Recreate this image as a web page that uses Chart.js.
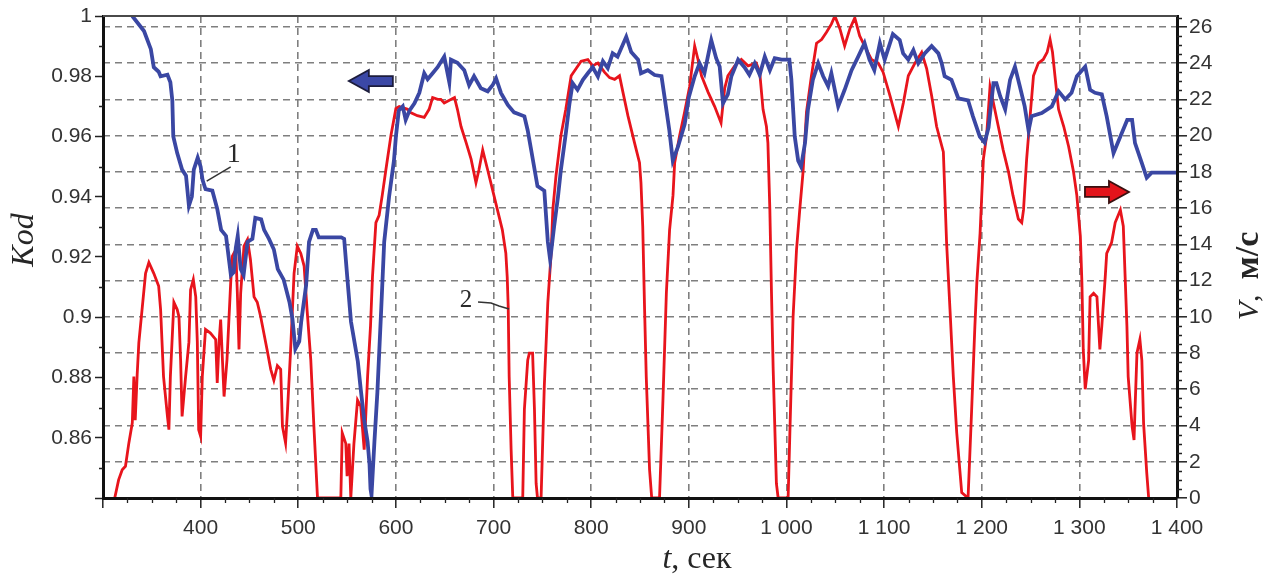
<!DOCTYPE html>
<html>
<head>
<meta charset="utf-8">
<script src="https://cdn.jsdelivr.net/npm/chart.js@4.4.0/dist/chart.umd.min.js"></script>
<style>
  html, body { margin: 0; padding: 0; background: #fff; }
  #wrap { width: 1267px; height: 574px; }
</style>
</head>
<body>
<div id="wrap"><canvas id="grafico" width="1267" height="574"></canvas></div>
<script>
// Kod (curve 1, left axis) - time in seconds
const kodTime = [
  330,342,349,352,357,359,366,369,371,372,
  376,381,385,388,391,393,397,400,402,405,
  412,417,421,426,431,434,436,438,441,444,
  448,453,456,462,465,470,475,479,485,491,
  494,497,501,503,508,511,515,518,521,544,
  547,550,554,561,564,567.5,571,573,574,575,
  578,581,585,588,593,598,600,603,607,610,
  614,619,624,629,632.5,637.6,642.7,649.5,654.7,656.4,
  663,670,675,680,687,694,699,702.6,707.7,714.6,
  721,731.6,735,738.5,745,752,755.6,758,762,766,
  769,774,777.8,781,786,791.5,796.6,801.6,806.9,812,
  817,822,827,835.9,841,848,851,858,865,872,
  875,880,883.6,889,895.7,900,906,911,916,923,
  928,931.6,935,940,943.6,950.5,957,962,967.5,972.6,
  977.8,983,988,995,1003,1005,1008.5,1012,1015,1019,
  1022,1027,1032.5,1037.6,1042.7,1046,1053,1059.6,1066.7,1073.5,
  1080,1085,1090,1095.7,1100.6,1109,1116,1119.5,1124.8,1130,
  1135,1141.6,1148.7,1155.6,1159,1162,1169,1176,1186,1191,
  1198,1203,1207,1212,1215,1219,1224,1229,1234,1239,
  1244,1248,1251,1261.5,1271.8,1278.7,1285.5,1292,1297.5,1306,
  1311,1316,1323,1328,1335,1342,1349,1354,1357,1364,
  1369,1374,1400
];
const kodValue = [
  1.000,0.995,0.989,0.983,0.9815,0.980,0.9805,0.978,0.972,0.960,
  0.9545,0.949,0.947,0.937,0.940,0.949,0.953,0.950,0.9455,0.9425,
  0.942,0.936,0.929,0.927,0.914,0.915,0.923,0.927,0.916,0.914,
  0.925,0.926,0.933,0.9325,0.929,0.926,0.9225,0.916,0.9125,0.905,
  0.8995,0.8895,0.892,0.8985,0.9105,0.925,0.929,0.929,0.9265,0.9265,
  0.926,0.914,0.8985,0.8853,0.876,0.866,0.8587,0.851,0.843,0.841,
  0.8587,0.875,0.903,0.925,0.940,0.952,0.960,0.9687,0.970,0.9655,
  0.9687,0.971,0.9745,0.981,0.979,0.981,0.983,0.9865,0.978,0.9855,
  0.9845,0.982,0.977,0.980,0.976,0.975,0.977,0.9793,0.9744,0.9705,
  0.968,0.9667,0.962,0.9556,0.9435,0.942,0.925,0.919,0.930,0.940,
  0.949,0.961,0.971,0.9777,0.9755,0.9788,0.981,0.983,0.9799,0.985,
  0.9827,0.9876,0.9865,0.9931,0.988,0.9855,0.981,0.982,0.9804,0.980,
  0.9734,0.9622,0.952,0.9567,0.964,0.973,0.980,0.9843,0.981,0.992,
  0.986,0.9832,0.971,0.974,0.980,0.9855,0.983,0.9805,0.9843,0.9805,
  0.9865,0.982,0.986,0.9855,0.9855,0.979,0.960,0.952,0.950,0.9578,
  0.9689,0.9788,0.9843,0.980,0.9767,0.981,0.970,0.9755,0.982,0.9865,
  0.991,0.9855,0.982,0.991,0.9855,0.994,0.992,0.9876,0.9855,0.9887,
  0.9843,0.9876,0.990,0.9876,0.9843,0.980,0.9788,0.9727,0.972,0.9667,
  0.960,0.958,0.963,0.9777,0.9777,0.9733,0.969,0.9788,0.9832,0.9767,
  0.970,0.962,0.9667,0.9678,0.970,0.975,0.9723,0.9745,0.980,0.9832,
  0.9755,0.9745,0.974,0.9667,0.9545,0.960,0.9655,0.9655,0.9578,0.9512,
  0.9463,0.948,0.948
];

// V, m/s (curve 2, right axis)
const speedTime = [
  312,316,319.7,323,326.5,330,331.6,333,335,336.7,
  340,343.6,347,352,357,359,362,366,367.5,369,
  372.6,376,377.8,379.5,381,384.6,388,389.7,392.5,395,
  396.6,398,400,401.7,405,410,415.4,417,418.8,420.5,
  424,427,430.8,432.5,436,437.6,439.3,441,444.4,448,
  451,454.7,458,461.5,468,471.8,475,478.6,482,483.8,
  487,489,492,495.7,499,502.6,506,509,512.8,516,
  519.7,543.6,545,548.7,550,552,553.8,557,560.7,564,
  567.5,571,574,576,579.5,582.8,586,589.7,594.9,600,
  603.4,612,615,622,629,634,637.6,642.8,646,649.5,
  660,663,666.7,672,677,682,685,688.9,694,699,
  704,709,712.6,714,715,716,718,719.7,729.9,731.6,
  735,736.7,740,741.9,743.6,745,748.7,752,755.6,759,
  760.7,764,769,774,779.5,784.6,789.7,796.6,801.6,806.9,
  813.6,818.8,824,829,832.5,837.6,844.4,849.5,851,852.8,
  854.7,856.4,859.8,862,870,873.5,877,880.3,883.8,885.5,
  890.6,895.7,900.8,906,909.4,913,919.7,926.5,933,936.7,
  940,947,953.8,960.7,969,972.6,976,979.5,981,983,
  984.6,986.4,989.7,991.5,1001.7,1003.4,1006.8,1010.3,1013.6,1017,
  1020.5,1025.6,1030.8,1036,1041,1046,1049.6,1054.7,1059.6,1065,
  1070,1075,1080,1087,1094,1099,1106,1114.6,1119.7,1124.8,
  1131.6,1138.5,1143.6,1148.7,1153.8,1160.7,1164,1167.5,1170.9,1174.4,
  1179.5,1186,1189.7,1193,1195,1198.3,1201.7,1205,1208.5,1212,
  1217,1222,1227.4,1232,1237.5,1241,1242.8,1246,1249.6,1253,
  1258,1263,1267,1270,1272.5,1275,1278.7,1284,1289,1294,
  1297.4,1301,1302.6,1304,1306,1309.5,1311,1314.6,1318,1321,
  1323,1326.5,1328,1333,1336.7,1342,1345,1348.7,1350,1354,
  1356,1357,1359,1362,1364,1365.8,1369,1371
];
const speedValue = [
  0,1.0,1.56,1.75,3.04,4.14,6.7,4.3,6.8,8.56,
  10.4,12.4,13.0,12.4,11.7,10.4,6.7,4.5,3.77,6.7,
  10.8,10.4,10.0,7.6,4.5,6.7,8.6,11.5,12.06,11.1,
  8.6,3.77,3.4,6.7,9.3,9.1,8.75,6.35,8.56,9.85,
  5.6,7.64,11.9,13.35,13.7,11.3,8.2,11.3,13.9,14.27,
  13.17,11.1,10.8,10.0,8.2,7.1,6.5,7.3,7.1,3.96,
  3.04,4.88,8.0,12.4,13.9,13.5,12.8,10.4,7.64,3.96,
  0,0,3.6,3.0,1.2,3.0,0,3.0,5.4,5.06,
  2.67,6.7,9.5,12.2,15.2,15.6,16.7,18.1,20.0,21.5,
  21.6,21.45,21.27,21.1,21.0,21.45,22.1,22.0,22.0,21.8,
  22.1,21.45,20.5,19.6,18.7,17.4,18.1,19.2,18.1,17.0,
  15.9,14.8,13.5,12.2,10.6,6.7,2.67,0,0,4.9,
  7.6,8.0,8.0,4.9,0.8,0,0,6.2,10.8,13.5,
  15.9,17.8,20.0,21.45,23.3,23.7,24.1,24.2,23.85,24.0,
  23.5,23.2,23.1,23.3,22.4,21.1,19.6,18.5,17.4,15.0,
  10.4,6.7,1.56,0,0,5.4,11.3,14.8,16.7,18.5,
  20.0,21.3,22.7,24.95,24.2,23.3,22.4,21.6,20.7,22.6,
  23.3,23.85,24.2,23.85,24.0,23.5,21.45,20.5,19.6,15.9,
  11.5,7.1,0.8,0,0,3.4,10.0,13.7,15.9,18.0,
  21.3,23.3,25.1,25.3,25.7,26.15,26.6,25.9,24.95,25.9,
  26.5,25.5,24.95,24.2,24.0,23.5,22.2,20.5,21.8,23.3,
  24.0,24.6,23.7,22.2,20.5,19.1,14.1,10.4,6.7,3.6,
  0.3,0,4.9,9.5,11.9,14.6,18.7,20.0,22.7,21.8,
  20.5,19.2,18.0,16.7,15.4,15.2,15.9,18.7,21.1,23.3,
  24.0,24.2,24.6,25.3,24.6,23.3,21.45,20.5,19.4,18.0,
  16.7,14.45,11.9,8.2,6.0,7.6,11.1,11.3,11.1,8.2,
  9.5,12.2,13.5,14.1,15.2,15.9,15.0,9.5,6.7,3.96,
  3.2,4.9,8.0,8.75,7.6,4.1,1.4,0
];

const timeTicks  = [300,400,500,600,700,800,900,1000,1100,1200,1300,1400];
const kodTicks   = [0.84,0.86,0.88,0.9,0.92,0.94,0.96,0.98,1];
const speedTicks = [0,2,4,6,8,10,12,14,16,18,20,22,24,26];

// label positions (data units)
const label1 = { t: 433.8, k: 0.9539, lead: [[430.8,0.9499],[406.2,0.9452]] };
const label2 = { t: 671.8, v: 10.93, lead: [[684.1,10.82],[697.4,10.76],[705.6,10.60],[715.9,10.43]] };
const arrowKod = { t: 551.8, k: 0.9784 };
const arrowSpeed = { t: 1350.8, v: 16.89 };

const pts = (xs, ys) => xs.map((x, i) => ({ x: x, y: ys[i] }));
const fmtTime = v => v === 300 ? '' : (v >= 1000 ? Math.floor(v / 1000) + ' ' + String(v % 1000).padStart(3, '0') : String(v));
const setTicks = arr => s => { s.ticks = arr.map(v => ({ value: v })); };

Chart.defaults.font.family = "'Liberation Sans', Arial, sans-serif";

function drawArrow(ctx, tx, ty, dir, fill, stroke) {
  const len = 44, shaft = 10, head = 22, headL = 20;
  const p = (o, dy) => [tx - dir * o, ty + dy];
  const poly = [p(len, -shaft/2), p(headL, -shaft/2), p(headL, -head/2), p(0, 0), p(headL, head/2), p(headL, shaft/2), p(len, shaft/2)];
  ctx.save();
  ctx.beginPath();
  poly.forEach((q, i) => i ? ctx.lineTo(q[0], q[1]) : ctx.moveTo(q[0], q[1]));
  ctx.closePath();
  ctx.fillStyle = fill; ctx.fill();
  ctx.lineWidth = 1.8; ctx.strokeStyle = stroke; ctx.stroke();
  ctx.restore();
}

function drawRuns(ctx, x, y, angle, runs) {
  ctx.save();
  ctx.translate(x, y); ctx.rotate(angle);
  ctx.textBaseline = 'alphabetic'; ctx.textAlign = 'left'; ctx.fillStyle = '#262626';
  let total = 0;
  runs.forEach(r => { ctx.font = r.font; r.w = ctx.measureText(r.text).width; total += r.w; });
  let cx = -total / 2;
  runs.forEach(r => { ctx.font = r.font; ctx.fillText(r.text, cx, 0); cx += r.w; });
  ctx.restore();
}

const extras = {
  id: 'extras',
  afterDraw(chart) {
    const { ctx, chartArea: a } = chart;
    const x = chart.scales.x, y = chart.scales.y, y1 = chart.scales.y1;
    ctx.save();
    // top frame line
    ctx.strokeStyle = '#4a4a4a'; ctx.lineWidth = 2;
    ctx.beginPath(); ctx.moveTo(a.left, a.top); ctx.lineTo(a.right, a.top); ctx.stroke();
    // minor ticks
    ctx.strokeStyle = '#222'; ctx.lineWidth = 1.3;
    ctx.beginPath();
    for (let t = 325; t < 1400; t += 25) {
      if (t % 100 === 0) continue;
      const px = Math.round(x.getPixelForValue(t)) + 0.5;
      ctx.moveTo(px, a.bottom); ctx.lineTo(px, a.bottom + 5);
    }
    for (let v = 0.5; v < 26.6; v += 0.5) {
      if (v % 2 === 0) continue;
      const py = Math.round(y1.getPixelForValue(v)) + 0.5;
      ctx.moveTo(a.right, py); ctx.lineTo(a.right + 5, py);
    }
    for (let k = 0.85; k < 1; k += 0.02) {
      const py = Math.round(y.getPixelForValue(k)) + 0.5;
      ctx.moveTo(a.left, py); ctx.lineTo(a.left - 4, py);
    }
    ctx.stroke();
    ctx.restore();

    // direction arrows
    drawArrow(ctx, x.getPixelForValue(arrowKod.t), y.getPixelForValue(arrowKod.k), -1, '#3b48a6', '#1c1c3c');
    drawArrow(ctx, x.getPixelForValue(arrowSpeed.t), y1.getPixelForValue(arrowSpeed.v), 1, '#e3141b', '#3a1010');

    // curve labels with leaders
    ctx.save();
    ctx.strokeStyle = '#333'; ctx.lineWidth = 1.5;
    ctx.beginPath();
    label1.lead.forEach((q, i) => {
      const px = x.getPixelForValue(q[0]), py = y.getPixelForValue(q[1]);
      i ? ctx.lineTo(px, py) : ctx.moveTo(px, py);
    });
    ctx.stroke();
    ctx.beginPath();
    label2.lead.forEach((q, i) => {
      const px = x.getPixelForValue(q[0]), py = y1.getPixelForValue(q[1]);
      i ? ctx.lineTo(px, py) : ctx.moveTo(px, py);
    });
    ctx.stroke();
    ctx.fillStyle = '#2a2a2a'; ctx.textAlign = 'center'; ctx.textBaseline = 'middle';
    ctx.font = "28px 'Liberation Serif', serif";
    ctx.fillText('1', x.getPixelForValue(label1.t), y.getPixelForValue(label1.k));
    ctx.font = "25px 'Liberation Serif', serif";
    ctx.fillText('2', x.getPixelForValue(label2.t), y1.getPixelForValue(label2.v));
    ctx.restore();

    // axis titles
    drawRuns(ctx, 33, 240, -Math.PI / 2, [{ text: 'Kod', font: "italic 32px 'Liberation Serif', serif" }]);
    drawRuns(ctx, 1258, 276, -Math.PI / 2, [
      { text: 'V', font: "italic 30px 'Liberation Serif', serif" },
      { text: ',  ', font: "30px 'Liberation Serif', serif" },
      { text: 'м/с', font: "bold 34px 'Liberation Serif', serif" }
    ]);
    drawRuns(ctx, 697, 568, 0, [
      { text: 't', font: "italic 32px 'Liberation Serif', serif" },
      { text: ', сек', font: "32px 'Liberation Serif', serif" }
    ]);
  }
};

new Chart(document.getElementById('grafico'), {
  type: 'line',
  data: {
    datasets: [
      { label: 'Kod', data: pts(kodTime, kodValue), yAxisID: 'y',
        borderColor: '#3a47a3', borderWidth: 3.8, pointRadius: 0, tension: 0, fill: false },
      { label: 'V', data: pts(speedTime, speedValue), yAxisID: 'y1',
        borderColor: '#e8141c', borderWidth: 2.8, pointRadius: 0, tension: 0, fill: false }
    ]
  },
  options: {
    responsive: false,
    devicePixelRatio: 1,
    animation: false,
    layout: { padding: { top: 16, left: 0, right: 0, bottom: 0 } },
    plugins: { legend: { display: false }, tooltip: { enabled: false } },
    scales: {
      x: {
        type: 'linear', min: 300, max: 1400,
        afterBuildTicks: setTicks(timeTicks),
        afterFit: s => { s.height = 76; },
        grid: { color: '#7f7f7f', lineWidth: 1.6, tickLength: 10, tickColor: '#222', tickWidth: 1.5, tickBorderDash: [] },
        border: { display: true, color: '#111', width: 3, dash: [7, 5], z: 1 },
        ticks: { color: '#333', font: { size: 21 }, padding: 8, maxRotation: 0, autoSkip: false, callback: v => fmtTime(v) }
      },
      y: {
        type: 'linear', position: 'left', min: 0.84, max: 1,
        afterBuildTicks: setTicks(kodTicks),
        afterFit: s => { s.width = 103; },
        grid: { drawOnChartArea: false, tickLength: 8, tickColor: '#222', tickWidth: 1.5 },
        border: { display: true, color: '#111', width: 3, z: 1 },
        ticks: { color: '#333', font: { size: 21 }, padding: 3, autoSkip: false,
                 callback: v => v === 0.84 ? '' : String(+v.toFixed(2)) }
      },
      y1: {
        type: 'linear', position: 'right', min: 0, max: 26.6,
        afterBuildTicks: setTicks(speedTicks),
        afterFit: s => { s.width = 90; },
        grid: { drawOnChartArea: true, color: '#7f7f7f', lineWidth: 1.6, tickLength: 10, tickColor: '#222', tickWidth: 1.5, tickBorderDash: [] },
        border: { display: true, color: '#111', width: 3, dash: [7, 5], z: 1 },
        ticks: { color: '#333', font: { size: 21 }, padding: 2, autoSkip: false, callback: v => String(v) }
      }
    }
  },
  plugins: [extras]
});
</script>
</body>
</html>
